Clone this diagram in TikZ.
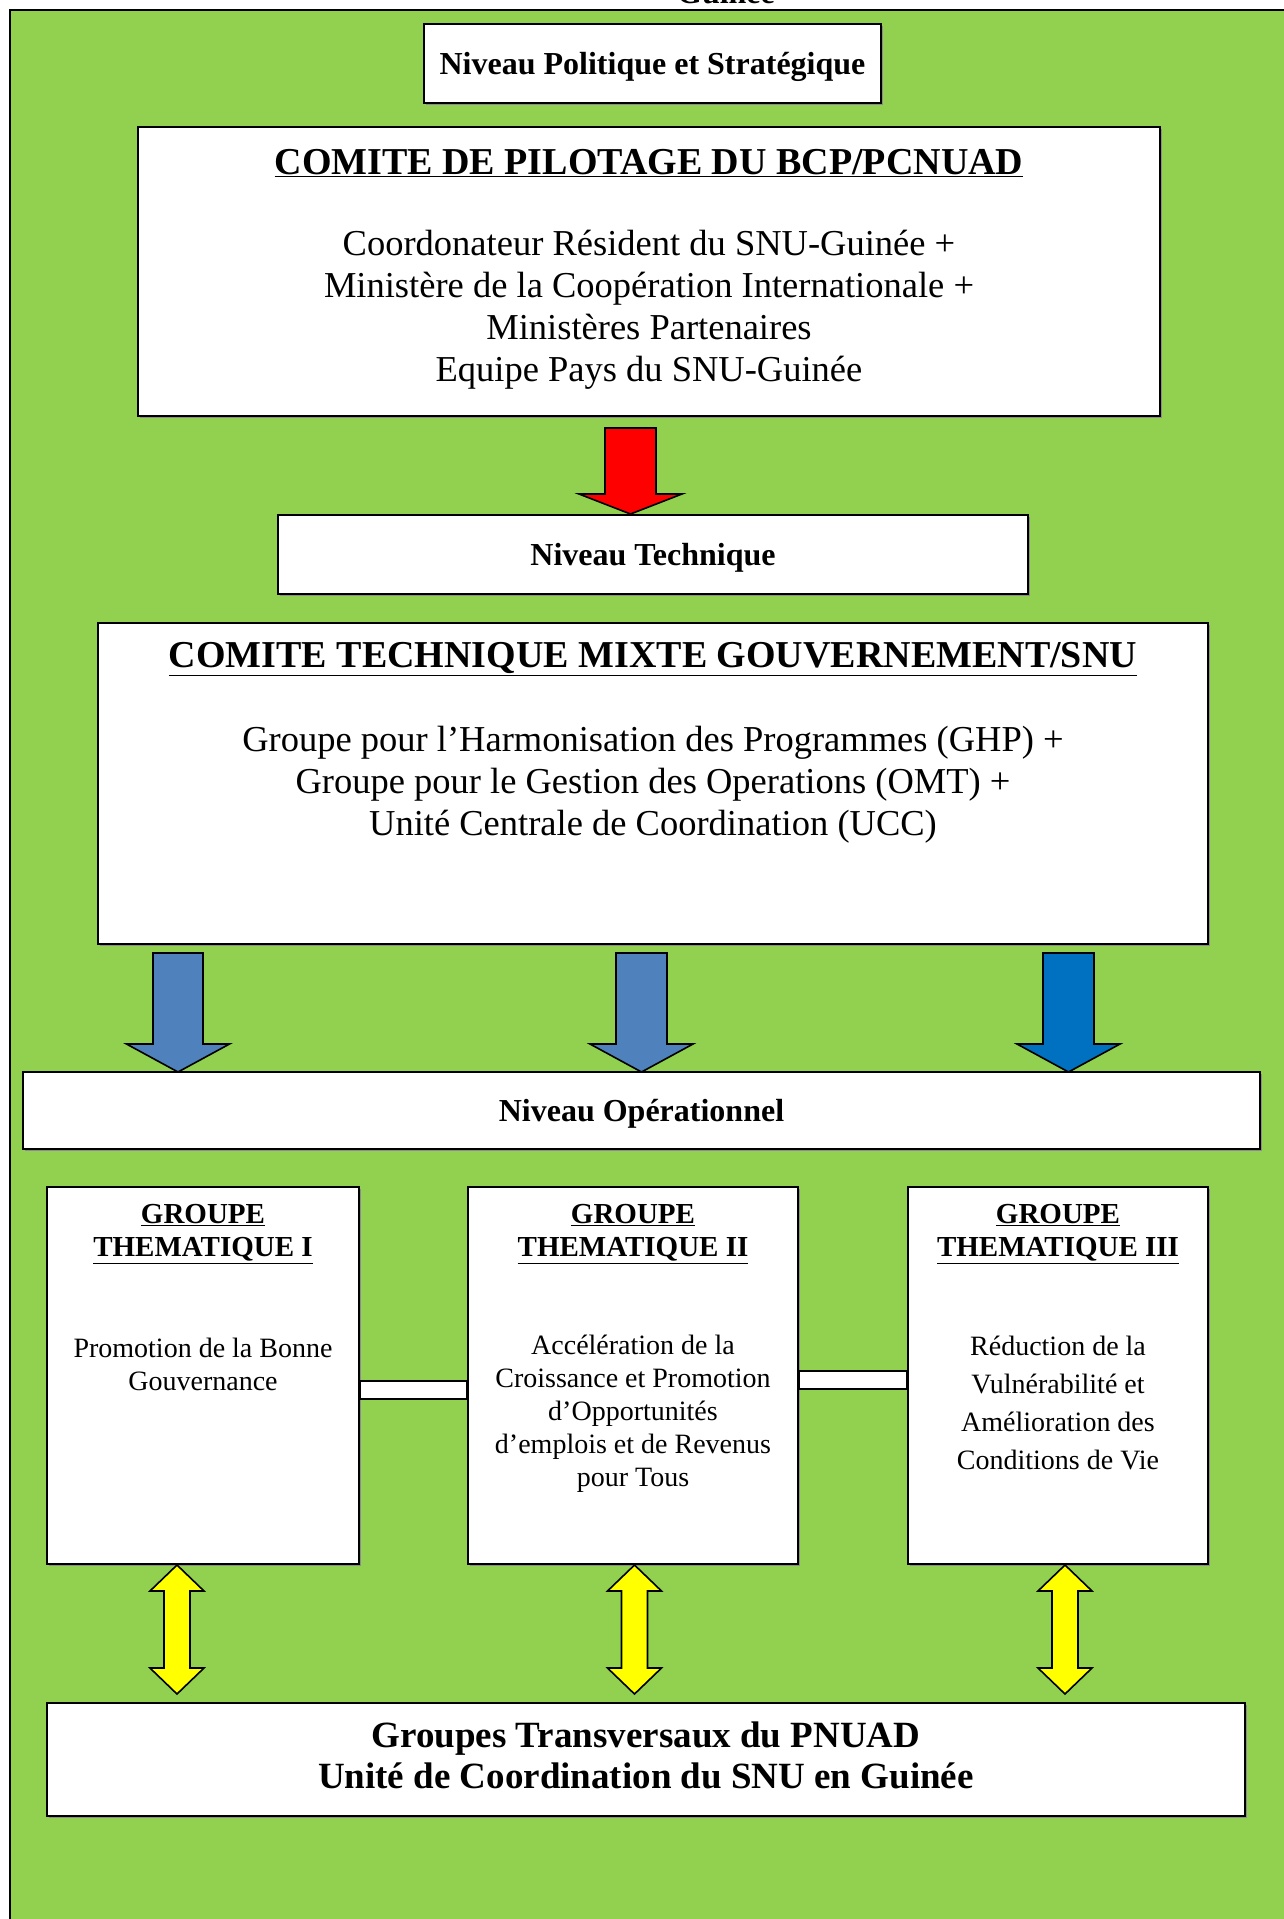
\documentclass[tikz,border=0pt]{standalone}
\usepackage{fontspec}
\setmainfont{Liberation Serif}
\usetikzlibrary{shadows}
\definecolor{fond}{HTML}{92D050}
\definecolor{bleu}{HTML}{4F81BD}
\definecolor{bleufonce}{HTML}{0070C0}
\definecolor{jaune}{HTML}{FFFF00}

\newcommand{\fsz}[2]{\fontsize{#1}{#2}\selectfont}
% colour, x, top, bar, tip, shaft half, head half
\newcommand{\flechebas}[7]{%
  \draw[line width=1.6pt, fill=#1] (#2-#6,#3) -- (#2+#6,#3) -- (#2+#6,#4) -- (#2+#7,#4)
    -- (#2,#5) -- (#2-#7,#4) -- (#2-#6,#4) -- cycle;}
% x, top tip, top bar, bottom bar, bottom tip, shaft half, head half
\newcommand{\flechedouble}[7]{%
  \draw[line width=1.6pt, fill=jaune] (#1,#2) -- (#1+#7,#3) -- (#1+#6,#3) -- (#1+#6,#4)
    -- (#1+#7,#4) -- (#1,#5) -- (#1-#7,#4) -- (#1-#6,#4) -- (#1-#6,#3) -- (#1-#7,#3) -- cycle;}

\tikzset{
  cadre/.style={draw, fill=white, line width=1.6pt, inner sep=0pt,
    drop shadow={shadow xshift=1.5pt, shadow yshift=-2pt, fill=black!45, opacity=1}},
  niveau/.style={cadre, font=\fsz{32}{38}\bfseries, text depth=0pt},
  titre/.style={font=\fsz{38}{44}\bfseries, inner sep=0pt},
  corps/.style={font=\fsz{36.5}{42}, align=center, inner sep=0pt},
  gtitre/.style={font=\fsz{29}{33}\bfseries, align=center, inner sep=0pt},
  gcorps/.style={font=\fsz{28}{33}, align=center, inner sep=0pt}
}

\begin{document}
\begin{tikzpicture}[x=1pt, y=-1pt]
  \useasboundingbox (0,0) rectangle (1284,1919);
  \fill[fond] (10,10) rectangle (1300,1940);
  \draw[line width=2pt] (10,1940) -- (10,10) -- (1300,10);
  \node[font=\fsz{32}{38}\bfseries, anchor=base] (pays) at (726,4) {Guinée};

  % niveau politique
  \node[niveau, minimum width=457pt, minimum height=79pt] (politique) at (652.5,63.5) {Niveau Politique et Stratégique};
  \node[cadre, minimum width=1022pt, minimum height=289pt] (pilotage) at (649,271.5) {};
  \node[titre] (piltitre) at (649,163) {\underline{COMITE DE PILOTAGE DU BCP/PCNUAD}};
  \node[corps] (pilcorps) at (649,310) {Coordonateur Résident du SNU-Guinée +\\
    Ministère de la Coopération Internationale +\\ Ministères Partenaires\\ Equipe Pays du SNU-Guinée};

  \flechebas{red}{630.5}{428}{494}{514}{25.5}{51.5}

  % niveau technique
  \node[niveau, minimum width=750pt, minimum height=79pt] (technique) at (653,554.5) {Niveau Technique};
  \node[cadre, minimum width=1110pt, minimum height=321pt] (mixte) at (653,783.5) {};
  \node[titre] (mixtitre) at (653,659) {\underline{COMITE TECHNIQUE MIXTE GOUVERNEMENT/SNU}};
  \node[corps] (mixcorps) at (653,785) {Groupe pour l’Harmonisation des Programmes (GHP) +\\
    Groupe pour le Gestion des Operations (OMT) +\\ Unité Centrale de Coordination (UCC)};

  \flechebas{bleu}{178}{953}{1044}{1072}{25}{51.5}
  \flechebas{bleu}{641.5}{953}{1044}{1072}{25.5}{51.5}
  \flechebas{bleufonce}{1068.5}{953}{1044}{1072}{25.5}{51.5}

  % niveau operationnel
  \node[niveau, minimum width=1237pt, minimum height=77pt] (operationnel) at (641.5,1110.5) {Niveau Opérationnel};

  \node[cadre, minimum width=312pt, minimum height=377pt] (g1) at (203,1375.5) {};
  \node[cadre, minimum width=330pt, minimum height=377pt] (g2) at (633,1375.5) {};
  \node[cadre, minimum width=300pt, minimum height=377pt] (g3) at (1058,1375.5) {};
  \draw[line width=1.6pt, fill=white] (g1.east |- 0,1381) rectangle (g2.west |- 0,1399);
  \draw[line width=1.6pt, fill=white] (g2.east |- 0,1371) rectangle (g3.west |- 0,1389);

  \node[gtitre] (g1titre) at (203,1234) {\underline{GROUPE}\\ \underline{THEMATIQUE I}};
  \node[gtitre] (g2titre) at (633,1234) {\underline{GROUPE}\\ \underline{THEMATIQUE II}};
  \node[gtitre] (g3titre) at (1058,1234) {\underline{GROUPE}\\ \underline{THEMATIQUE III}};
  \node[gcorps] (g1corps) at (203,1364) {Promotion de la Bonne\\ Gouvernance};
  \node[gcorps] (g2corps) at (633,1414) {Accélération de la\\ Croissance et Promotion\\
    d’Opportunités\\ d’emplois et de Revenus\\ pour Tous};
  \node[gcorps, font=\fsz{28}{38}] (g3corps) at (1058,1403) {Réduction de la\\ Vulnérabilité et\\
    Amélioration des\\ Conditions de Vie};

  \flechedouble{177}{1565}{1591}{1668}{1694}{13}{27}
  \flechedouble{634.5}{1565}{1591}{1668}{1694}{13}{27}
  \flechedouble{1065}{1565}{1591}{1668}{1694}{13}{27}

  % groupes transversaux
  \node[cadre, minimum width=1198pt, minimum height=113pt] (transversaux) at (646,1759.5) {};
  \node[font=\fsz{37}{41}\bfseries, align=center, inner sep=0pt] (transtexte) at (646,1755)
    {Groupes Transversaux du PNUAD\\ Unité de Coordination du SNU en Guinée};
\end{tikzpicture}
\end{document}
